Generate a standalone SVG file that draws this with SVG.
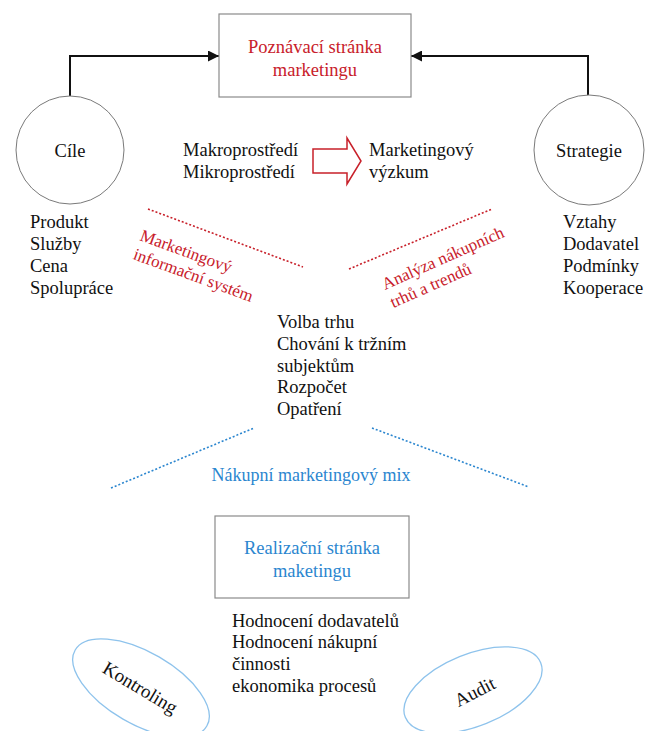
<svg xmlns="http://www.w3.org/2000/svg" width="645" height="731" viewBox="0 0 645 731">
<style>
text{font-family:"Liberation Serif","Times New Roman",serif;font-size:18.5px;fill:#111}
.red{fill:#c8202a}
.blue{fill:#2b86cf}
.mid{text-anchor:middle}
.box{fill:#fff;stroke:#8a8a8a;stroke-width:1.2}
.circ{fill:#fff;stroke:#7a7a7a;stroke-width:1}
.ell{fill:none;stroke:#8ec3ec;stroke-width:1.3}
.conn{fill:none;stroke:#111;stroke-width:2}
.rdot{fill:none;stroke:#c8202a;stroke-width:1.6;stroke-dasharray:2 2}
.bdot{fill:none;stroke:#2b86cf;stroke-width:1.6;stroke-dasharray:2 2}
</style>
<defs>
<marker id="ah" viewBox="0 0 10 10" refX="10" refY="5" markerWidth="6" markerHeight="5.5" markerUnits="strokeWidth" orient="auto">
<path d="M0,0 L10,5 L0,10 Z" fill="#111"/>
</marker>
</defs>
<rect width="645" height="731" fill="#fff"/>
<g id="connectors">
<path class="conn" d="M70,97 V56 H219" marker-end="url(#ah)"/>
<path class="conn" d="M588,97 V56 H411" marker-end="url(#ah)"/>
<path class="rdot" d="M148,209 L303,267"/>
<path class="rdot" d="M349,269 L492,209"/>
<path class="bdot" d="M111,488 L254,428"/>
<path class="bdot" d="M372,428 L529,487"/>
</g>
<g id="poznavaci">
<rect class="box" x="219" y="14" width="192" height="83"/>
<text class="red mid" x="315" y="53">Poznávací stránka</text>
<text class="red mid" x="315" y="76">marketingu</text>
</g>
<g id="cile">
<circle class="circ" cx="70" cy="150" r="54"/>
<text class="mid" x="70" y="157">Cíle</text>
</g>
<g id="strategie">
<circle class="circ" cx="589" cy="150" r="55"/>
<text class="mid" x="589" y="157">Strategie</text>
</g>
<g id="cile-list">
<text x="30" y="228">Produkt</text>
<text x="30" y="250">Služby</text>
<text x="30" y="272">Cena</text>
<text x="30" y="294">Spolupráce</text>
</g>
<g id="strategie-list">
<text x="563" y="228">Vztahy</text>
<text x="563" y="250">Dodavatel</text>
<text x="563" y="272">Podmínky</text>
<text x="563" y="294">Kooperace</text>
</g>
<g id="prostredi">
<text x="183" y="156">Makroprostředí</text>
<text x="183" y="178">Mikroprostředí</text>
</g>
<g id="block-arrow">
<path d="M313,149 H347 V138 L361,161 L347,184 V173 H313 Z" fill="#fff" stroke="#c8202a" stroke-width="1.5"/>
</g>
<g id="vyzkum">
<text x="369" y="156">Marketingový</text>
<text x="369" y="178">výzkum</text>
</g>
<g id="mis">
<g transform="translate(139,240) rotate(20)">
<text class="red" x="0" y="0" style="font-size:17px">Marketingový</text>
<text class="red" x="0" y="20" style="font-size:17px">informační systém</text>
</g>
</g>
<g id="analyza">
<g transform="translate(385,290) rotate(-24)">
<text class="red" x="0" y="0" style="font-size:17px">Analýza nákupních</text>
<text class="red" x="0" y="20" style="font-size:17px">trhů a trendů</text>
</g>
</g>
<g id="center-list">
<text x="277" y="328">Volba trhu</text>
<text x="277" y="350">Chování k tržním</text>
<text x="277" y="372">subjektům</text>
<text x="277" y="393">Rozpočet</text>
<text x="277" y="415">Opatření</text>
</g>
<g id="mix">
<text class="blue mid" x="311" y="481" style="font-size:18px">Nákupní marketingový mix</text>
</g>
<g id="realizacni">
<rect class="box" x="215" y="516" width="194" height="82"/>
<text class="blue mid" x="312" y="554">Realizační stránka</text>
<text class="blue mid" x="312" y="577">maketingu</text>
</g>
<g id="real-list">
<text x="232" y="627">Hodnocení dodavatelů</text>
<text x="232" y="648">Hodnocení nákupní</text>
<text x="232" y="670">činnosti</text>
<text x="232" y="692">ekonomika procesů</text>
</g>
<g id="kontroling">
<ellipse class="ell" cx="0" cy="0" rx="76" ry="36" transform="translate(141,688) rotate(30)"/>
<text class="mid" x="0" y="6" transform="translate(140,688) rotate(31)" style="font-size:19px">Kontroling</text>
</g>
<g id="audit">
<ellipse class="ell" cx="0" cy="0" rx="73" ry="36" transform="translate(473,690) rotate(-22)"/>
<text class="mid" x="0" y="6" transform="translate(475,692) rotate(-27)" style="font-size:19px">Audit</text>
</g>
</svg>
